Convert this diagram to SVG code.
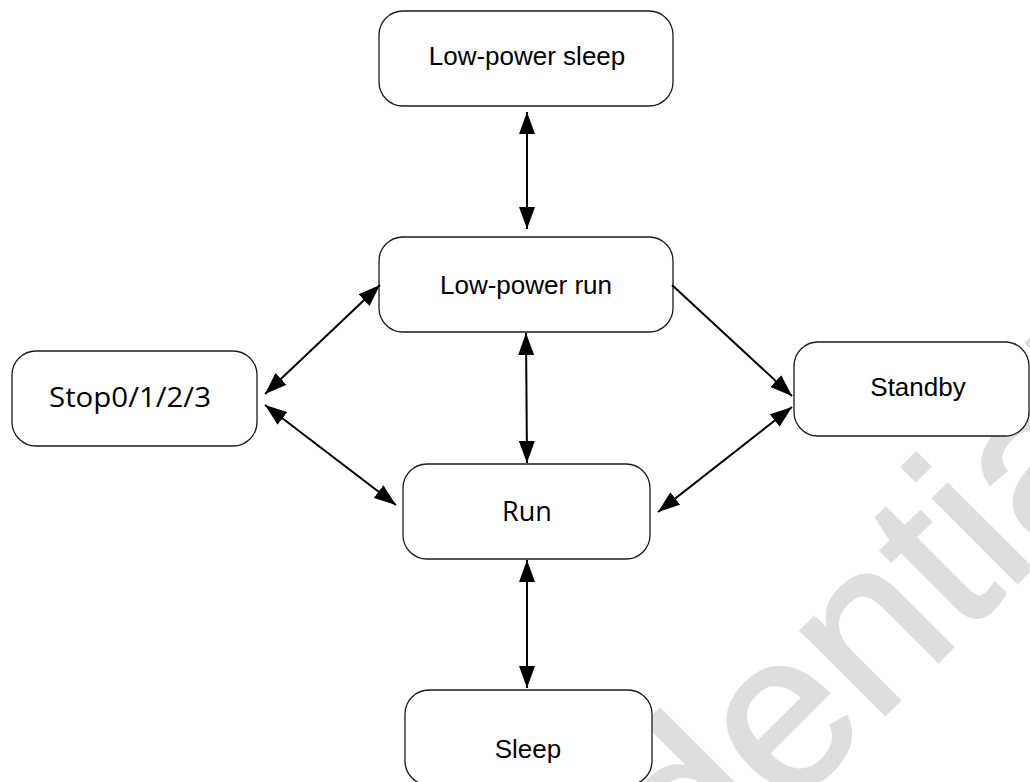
<svg xmlns="http://www.w3.org/2000/svg" width="1030" height="782" viewBox="0 0 1030 782">
  <defs>
    <marker id="ah" viewBox="0 0 22 16" markerWidth="22" markerHeight="16" refX="22" refY="8" orient="auto-start-reverse" markerUnits="userSpaceOnUse">
      <path d="M0,0 L22,8 L0,16 z" fill="#000"/>
    </marker>
    <style>
      .box { fill: #fff; stroke: #1a1a1a; stroke-width: 1.3; }
      .lbl { font-family: "Liberation Sans", Arial, sans-serif; font-size: 26px; fill: #000; text-anchor: middle; }
      .lbl2 { font-family: "Open Sans", "Noto Sans", sans-serif; font-size: 27px; fill: #000; text-anchor: middle; }
      .conn { stroke: #000; stroke-width: 2; fill: none; }
      .wm { font-family: "Liberation Sans", Arial, sans-serif; font-size: 225px; fill: #dedede; stroke: #dedede; stroke-width: 3; }
    </style>
  </defs>
  <rect width="1030" height="782" fill="#fff"/>
  <text class="wm" transform="translate(326,1274) rotate(-45)">Confidential</text>

  <g id="node-lp-sleep">
    <rect class="box" x="379" y="11" width="294" height="95" rx="24"/>
    <text class="lbl" x="527" y="65">Low-power sleep</text>
  </g>
  <g id="node-lp-run">
    <rect class="box" x="379" y="237" width="294" height="95" rx="24"/>
    <text class="lbl" x="526" y="294">Low-power run</text>
  </g>
  <g id="node-stop">
    <rect class="box" x="12" y="351" width="245" height="95" rx="24"/>
    <text class="lbl2" x="130" y="407" textLength="162" lengthAdjust="spacingAndGlyphs">Stop0/1/2/3</text>
  </g>
  <g id="node-standby">
    <rect class="box" x="794" y="342" width="235" height="94" rx="24"/>
    <text class="lbl" x="918" y="396">Standby</text>
  </g>
  <g id="node-run">
    <rect class="box" x="403" y="464" width="247" height="95" rx="24"/>
    <text class="lbl2" x="527" y="521">Run</text>
  </g>
  <g id="node-sleep">
    <rect class="box" x="405" y="690" width="247" height="95" rx="24"/>
    <text class="lbl" x="528" y="758">Sleep</text>
  </g>

  <g id="connectors">
    <line class="conn" x1="527" y1="112" x2="527" y2="229" marker-start="url(#ah)" marker-end="url(#ah)"/>
    <line class="conn" x1="526" y1="333" x2="527" y2="463" marker-start="url(#ah)" marker-end="url(#ah)"/>
    <line class="conn" x1="527" y1="560" x2="527" y2="688" marker-start="url(#ah)" marker-end="url(#ah)"/>
    <line class="conn" x1="265" y1="394" x2="380" y2="285" marker-start="url(#ah)" marker-end="url(#ah)"/>
    <line class="conn" x1="265" y1="405" x2="396" y2="505" marker-start="url(#ah)" marker-end="url(#ah)"/>
    <line class="conn" x1="672" y1="285" x2="792" y2="396" marker-end="url(#ah)"/>
    <line class="conn" x1="658" y1="512" x2="792" y2="407" marker-start="url(#ah)" marker-end="url(#ah)"/>
  </g>
</svg>
